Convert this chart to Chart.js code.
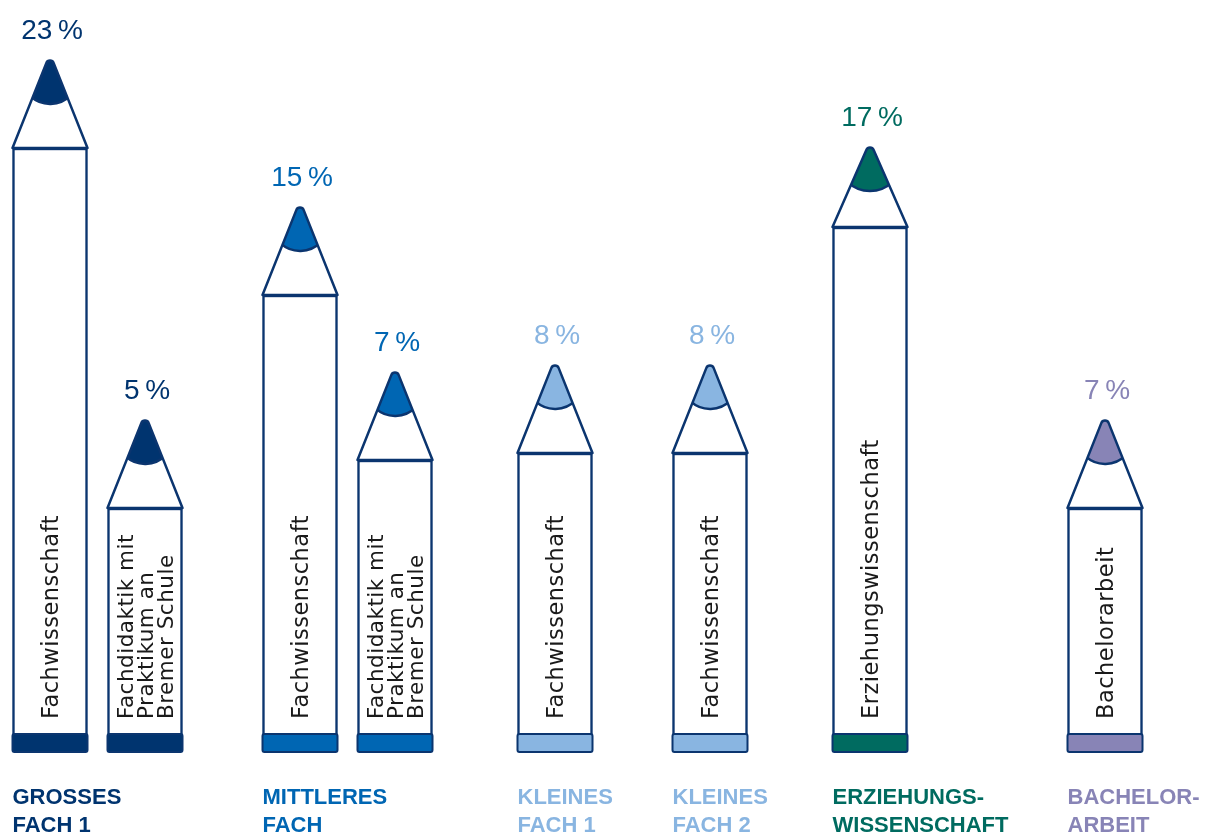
<!DOCTYPE html>
<html>
<head>
<meta charset="utf-8">
<script src="https://cdn.jsdelivr.net/npm/chart.js@4.4.1/dist/chart.umd.min.js"></script>
<style>
html,body{margin:0;padding:0;background:#ffffff;}
#wrap{width:1209px;height:838px;position:relative;}
</style>
</head>
<body>
<div id="wrap"><canvas id="c"></canvas></div>
<script>
// ---------- DATA ----------
const groupLabels = [
  ["GROSSES", "FACH 1"],
  ["MITTLERES", "FACH"],
  ["KLEINES", "FACH 1"],
  ["KLEINES", "FACH 2"],
  ["ERZIEHUNGS-", "WISSENSCHAFT"],
  ["BACHELOR-", "ARBEIT"]
];
const pencilGroup = [0, 0, 1, 1, 2, 3, 4, 5];
const pencilText = [
  ["Fachwissenschaft"],
  ["Fachdidaktik mit", "Praktikum an", "Bremer Schule"],
  ["Fachwissenschaft"],
  ["Fachdidaktik mit", "Praktikum an", "Bremer Schule"],
  ["Fachwissenschaft"],
  ["Fachwissenschaft"],
  ["Erziehungswissenschaft"],
  ["Bachelorarbeit"]
];
const percentValues = [23, 5, 15, 7, 8, 8, 17, 7];
// length of the pencil body (arbitrary units)
const pencilLength = [604, 244, 457, 292, 299, 299, 525, 244];

// ---------- STYLE / LAYOUT ----------
const NAVY = '#0b356f';
const groupColors = ['#00346f', '#0066b3', '#89b5e1', '#89b5e1', '#006b60', '#8884b6'];
const tipLengths = [88, 88, 88, 88, 88, 88, 80, 88];
const SLOTS_IN_GROUP = 19;
const groupGapSlots = [0, 31, 32, 31, 32, 47];
const Y_MAX = 752;

// build slot layout
const slotOf = [];
let idx = 0;
pencilGroup.forEach((g, p) => {
  if (p === 0) idx = 0;
  else if (g === pencilGroup[p - 1]) idx += SLOTS_IN_GROUP;
  else idx += groupGapSlots[g];
  slotOf.push(idx);
});
const nSlots = idx + 1;
const labels = Array.from({length: nSlots}, () => '');
const bodyData = Array.from({length: nSlots}, () => null);
pencilLength.forEach((v, p) => { bodyData[slotOf[p]] = v; });

const pencilPlugin = {
  id: 'pencils',
  afterDatasetsDraw(chart) {
    const ctx = chart.ctx;
    const meta = chart.getDatasetMeta(0);
    pencilGroup.forEach((g, p) => {
      const el = meta.data[slotOf[p]];
      const x = el.x, top = el.y, base = el.base, w = el.width;
      const left = x - w / 2, right = x + w / 2;
      const color = groupColors[g];
      const tipH = tipLengths[p];
      const halfAng = Math.atan((w / 2) / tipH);
      const rr = 4;
      const drop = rr / Math.sin(halfAng) - rr;
      const visApex = top - tipH;
      const apex = visApex - drop;   // geometric apex

      // band at the bottom
      ctx.save();
      ctx.beginPath();
      ctx.roundRect(left, base - 18, w, 18, 2);
      ctx.fillStyle = color;
      ctx.fill();
      ctx.lineWidth = 2;
      ctx.strokeStyle = NAVY;
      ctx.stroke();
      ctx.restore();

      // tip triangle path
      const tri = new Path2D();
      tri.moveTo(left, top);
      tri.arcTo(x, apex, right, top, rr);
      tri.lineTo(right, top);
      tri.closePath();

      ctx.save();
      ctx.fillStyle = '#ffffff';
      ctx.fill(tri);
      ctx.clip(tri);
      // lead
      const L = 37, sag = 7;
      const ys = visApex + L;
      const hw = (w / 2) * (ys - apex) / (top - apex) + 1.5;
      const r = (hw * hw + sag * sag) / (2 * sag);
      const cyc = ys + sag - r;
      ctx.beginPath();
      ctx.rect(left - 5, apex - 10, w + 10, cyc - apex + 10);
      ctx.fillStyle = color;
      ctx.fill();
      ctx.beginPath();
      ctx.arc(x, cyc, r, 0, Math.PI * 2);
      ctx.fill();
      const aR = Math.atan2(ys - cyc, hw + 4);
      ctx.beginPath();
      ctx.arc(x, cyc, r, aR, Math.PI - aR, false);
      ctx.lineWidth = 2.5;
      ctx.strokeStyle = NAVY;
      ctx.stroke();
      ctx.restore();

      ctx.save();
      ctx.lineWidth = 2.5;
      ctx.lineJoin = 'round';
      ctx.strokeStyle = NAVY;
      ctx.stroke(tri);
      ctx.restore();

      // percentage label
      ctx.save();
      ctx.font = '400 28px "Liberation Sans", Arial, sans-serif';
      ctx.fillStyle = color;
      ctx.textAlign = 'center';
      ctx.textBaseline = 'alphabetic';
      ctx.fillText(percentValues[p] + '\u2009%', x + 2, visApex - 21);
      ctx.restore();

      // rotated text inside the body
      const lines = pencilText[p];
      ctx.save();
      ctx.translate(x, base - 33);
      ctx.rotate(-Math.PI / 2);
      ctx.font = (lines.length > 1 ? '400 21.5px' : '400 22.5px') + ' "DejaVu Sans", sans-serif';
      ctx.letterSpacing = '0.5px';
      ctx.fillStyle = '#1a1a1a';
      ctx.textAlign = 'left';
      ctx.textBaseline = 'alphabetic';
      lines.forEach((ln, i) => {
        const off = (i - (lines.length - 1) / 2) * 20 + 8;
        ctx.fillText(ln, 0, off);
      });
      ctx.restore();
    });

    // group labels
    groupLabels.forEach((lbl, g) => {
      const first = pencilGroup.indexOf(g);
      const el = meta.data[slotOf[first]];
      const left = el.x - el.width / 2;
      ctx.save();
      ctx.font = '700 22px "Liberation Sans", Arial, sans-serif';
      ctx.fillStyle = groupColors[g];
      ctx.textAlign = 'left';
      ctx.textBaseline = 'alphabetic';
      ctx.fillText(lbl[0], left, 804);
      ctx.fillText(lbl[1], left, 832);
      ctx.restore();
    });
  }
};

new Chart(document.getElementById('c'), {
  type: 'bar',
  data: {
    labels: labels,
    datasets: [{
      data: bodyData,
      backgroundColor: '#ffffff',
      borderColor: NAVY,
      borderWidth: 2.5,
      borderSkipped: false,
      barThickness: 75,
      clip: false
    }]
  },
  options: {
    responsive: true,
    maintainAspectRatio: false,
    animation: false,
    layout: { padding: { left: 47.5, right: 101.5, top: 0, bottom: 86 } },
    scales: {
      x: { display: false, offset: true, grid: { display: false } },
      y: { display: false, min: 0, max: Y_MAX }
    },
    plugins: { legend: { display: false }, tooltip: { enabled: false } }
  },
  plugins: [pencilPlugin]
});
</script>
</body>
</html>
